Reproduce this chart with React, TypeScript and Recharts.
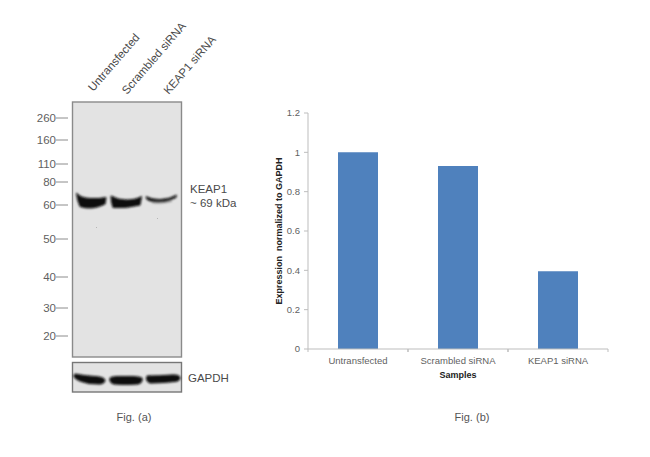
import {
  BarChart,
  Bar,
  ComposedChart,
  Line,
  XAxis,
  YAxis,
} from "recharts";

const samples = ["Untransfected", "Scrambled siRNA", "KEAP1 siRNA"];
const expression = [1, 0.93, 0.395];
const expressionTicks = [0, 0.2, 0.4, 0.6, 0.8, 1, 1.2];

// ladder: label and how far down the gel (px from the top) it ran
const markerLabels = ["260", "160", "110", "80", "60", "50", "40", "30", "20"];
const markerRun = [16, 38, 62, 80, 103, 137, 175, 206, 234];
// where the KEAP1 band sits in each lane, same units
const bandRun = [99, 100, 96];

const barData = samples.map((name, i) => ({ name, value: expression[i] }));
const laneData = samples.map((name, i) => ({ name, run: bandRun[i] }));

const FONT = "'Liberation Sans', Arial, sans-serif";
const GREY = "#5f5f5f";

function MarkerTick({ x, y, payload }: any) {
  const i = markerRun.indexOf(payload.value);
  return (
    <g>
      <line x1={x - 16} x2={x - 4} y1={y} y2={y} stroke="#8c8c8c" />
      <text x={x - 16} y={y + 4} textAnchor="end" fontSize={11.5} fill={GREY} fontFamily={FONT}>
        {markerLabels[i]}
      </text>
    </g>
  );
}

// the rotated lane names do not start exactly over the lane centres
const laneNudgeX = [3, 0, 5];
const laneNudgeY = [-10, -7, -7];

function LaneTick({ x, y, payload, index }: any) {
  const tx = x + laneNudgeX[index];
  const ty = y + laneNudgeY[index];
  return (
    <text
      x={tx}
      y={ty}
      transform={`rotate(-49 ${tx} ${ty})`}
      fontSize={11.5}
      fill="#4a4a4a"
      fontFamily={FONT}
    >
      {payload.value}
    </text>
  );
}

function SampleTick({ x, y, payload }: any) {
  return (
    <g>
      <line x1={x - 50} x2={x - 50} y1={y - 8} y2={y - 5} stroke="#bdbdbd" />
      <line x1={x + 50} x2={x + 50} y1={y - 8} y2={y - 5} stroke="#bdbdbd" />
      <text x={x} y={y + 7} textAnchor="middle" fontSize={9.5} fill={GREY} fontFamily={FONT}>
        {payload.value}
      </text>
    </g>
  );
}

function BlotChart() {
  return (
    <ComposedChart
      width={260}
      height={457}
      data={laneData}
      margin={{ top: 72, right: 78, bottom: 100, left: 32 }}
      style={{ position: "absolute", left: 0, top: 0 }}
    >
      <defs>
        <filter id="soft" x="-10%" y="-30%" width="120%" height="160%">
          <feGaussianBlur stdDeviation="0.85" />
        </filter>
      </defs>
      <rect x={72.5} y={102} width={109} height={255} fill="#e3e3e3" stroke="#8a8a8a" strokeWidth={1.4} />
      <rect x={72.5} y={362.5} width={109} height={29.5} fill="#e3e3e3" stroke="#777" strokeWidth={1.4} />
      <g fill="#0c0c0c" stroke="#0c0c0c" strokeWidth={1} filter="url(#soft)">
        <path d="M76.5 193 Q80 198 90 198.5 Q100 199 106 197.5 L105 204 Q92 210.5 80 206.5 Q77 200 76.5 193 Z" />
        <path d="M111 196 Q118 200 126 200 Q136 200 141.5 196.5 L140 205 Q126 208.5 113 207.5 Q111 202 111 196 Z" />
        <path d="M146 196.5 Q152 199.5 160 199.5 Q170 199 176.5 195 L176 197.5 Q168 202 158 202 Q150 202 146.5 199 Z" strokeWidth={0.7} />
        <path d="M152 202.5 Q160 204 172 201" fill="none" stroke="#777" />
        <path d="M75 374 Q85 376 95 376.5 Q104 377 105 380 Q105 383.5 100 384 Q88 384.5 80 381 Q73 378 74 375 Z" />
        <path d="M110 378 Q112 376 125 376.5 Q138 376 142 378 Q143 383 138 384 Q125 385 114 384 Q109 383 110 378 Z" />
        <path d="M147 376 Q160 376 172 375 Q180 374.5 180 378 Q180 381 175 381.5 Q160 383 150 383 Q145 381 147 376 Z" />
      </g>
      <rect x={96} y={227} width={1} height={1} fill="#b5b5b5" />
      <rect x={157} y={218} width={1} height={1} fill="#b5b5b5" />
      <XAxis
        dataKey="name"
        orientation="top"
        scale="band"
        height={30}
        axisLine={false}
        tickLine={false}
        interval={0}
        tickSize={0}
        tickMargin={0}
        tick={(props: any) => <LaneTick {...props} />}
      />
      <YAxis
        type="number"
        width={40}
        reversed
        domain={[0, 255]}
        ticks={markerRun}
        interval={0}
        axisLine={false}
        tickLine={false}
        tickSize={0}
        tickMargin={0}
        tick={(props: any) => <MarkerTick {...props} x={72} />}
      />
      <Line dataKey="run" stroke="none" dot={false} isAnimationActive={false} />
      <g fontFamily={FONT} fontSize={11.5} fill="#4a4a4a">
        <text x={190} y={193}>KEAP1</text>
        <text x={190} y={207}>~ 69 kDa</text>
        <text x={188} y={382}>GAPDH</text>
      </g>
    </ComposedChart>
  );
}

function ExpressionChart() {
  return (
    <BarChart
      width={390}
      height={457}
      data={barData}
      margin={{ top: 113, right: 42, bottom: 78, left: 8 }}
      style={{ position: "absolute", left: 260, top: 0 }}
    >
      <XAxis
        dataKey="name"
        height={30}
        interval={0}
        stroke="#bdbdbd"
        tickLine={false}
        tick={(props: any) => <SampleTick {...props} />}
      />
      <YAxis
        width={40}
        domain={[0, 1.2]}
        ticks={expressionTicks}
        interval={0}
        stroke="#bdbdbd"
        tickSize={4}
        tickMargin={4}
        tick={{ fontSize: 9.5, fill: GREY, fontFamily: FONT }}
      />
      <Bar dataKey="value" fill="#4f81bd" barSize={40} isAnimationActive={false} />
      <text
        x={198}
        y={378}
        textAnchor="middle"
        fontSize={9}
        fontWeight="bold"
        fill="#222"
        fontFamily={FONT}
      >
        Samples
      </text>
      <text
        transform="translate(22 231) rotate(-90)"
        textAnchor="middle"
        fontSize={9}
        fontWeight="bold"
        fill="#222"
        fontFamily={FONT}
        xmlSpace="preserve"
      >
        Expression  normalized to GAPDH
      </text>
    </BarChart>
  );
}

const captionStyle = {
  position: "absolute" as const,
  top: 411,
  width: 80,
  textAlign: "center" as const,
  fontFamily: FONT,
  fontSize: 11,
  color: "#555",
};

export default function App() {
  return (
    <div
      style={{
        position: "absolute",
        left: 0,
        top: 0,
        width: 650,
        height: 457,
        overflow: "hidden",
        background: "#fff",
      }}
    >
      <BlotChart />
      <ExpressionChart />
      <div style={{ ...captionStyle, left: 94 }}>Fig. (a)</div>
      <div style={{ ...captionStyle, left: 432 }}>Fig. (b)</div>
    </div>
  );
}
